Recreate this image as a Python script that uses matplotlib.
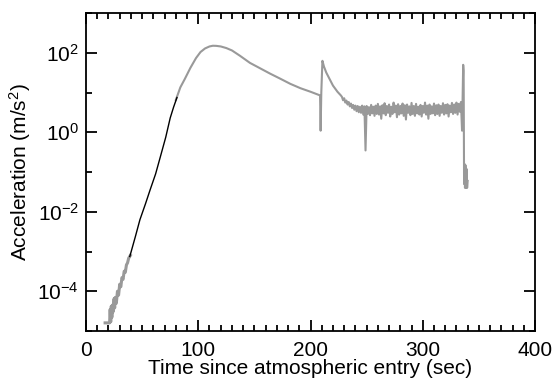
import matplotlib
matplotlib.use("Agg")
import matplotlib.pyplot as plt
from matplotlib.ticker import LogLocator, MultipleLocator, LogFormatterMathtext, NullFormatter

plt.rcParams['font.family'] = 'Liberation Sans'
plt.rcParams['mathtext.fontset'] = 'custom'
plt.rcParams['mathtext.rm'] = 'Liberation Sans'
plt.rcParams['mathtext.it'] = 'Liberation Sans'

# early part of the measured record (noisy, blocky)
t_early = [17, 21, 21.5, 22, 22.5, 23, 23.5, 24, 25, 25.5, 26, 27, 28, 29, 30, 31,
           32, 33, 34, 35, 36, 37, 38, 39.5]
a_early = [1.6e-5, 1.6e-5, 3.5e-5, 1.7e-5, 4.2e-5, 2.2e-5, 4.5e-5, 3.0e-5, 6.5e-5, 3.8e-5,
           7.0e-5, 5.0e-5, 1.0e-4, 8.0e-5, 1.5e-4, 1.3e-4, 2.2e-4, 2.0e-4, 3.2e-4, 3.0e-4,
           4.6e-4, 5.2e-4, 6.8e-4, 8.0e-4]

# fitted section (black)
t_fit = [39, 44, 48, 53, 57, 62, 66, 71, 75, 78, 81]
a_fit = [7.5e-4, 2.4e-3, 6.3e-3, 1.6e-2, 3.5e-2, 0.09, 0.23, 0.75, 2.3, 4.3, 7.5]

# smooth deceleration to parachute deployment
t_main = [80, 84, 88, 93, 98, 102, 106, 110, 113, 116, 120, 125, 130, 137, 146, 155,
          164, 173, 182, 191, 200, 208.5]
a_main = [6.5, 13.5, 22, 42, 74, 105, 129, 145, 151, 150, 145, 132, 115, 85, 56, 41,
          30, 22.4, 16.6, 12.9, 10.5, 8.5]

# parachute phase
t_chute = [208.5, 209, 209.6, 210.6, 212, 214, 217, 220, 224, 227]
a_chute = [8.5, 1.1, 10, 63, 45, 32, 22, 15, 10.5, 8.5]

t_noise = list(range(228, 335))
a_noise = [7.8, 6.4, 7.2, 5.6, 6.3, 5.0, 5.8, 4.5, 5.3, 4.1,
           4.9, 3.7, 4.7, 3.4, 4.6, 3.2, 4.4, 3.1, 4.7, 2.8,
           4.5, 0.35, 4.6, 2.9, 4.3, 2.7, 4.9, 3.0, 4.4, 2.6,
           4.7, 2.9, 5.2, 2.8, 4.5, 2.2, 4.8, 3.0, 5.4, 2.7,
           4.6, 3.1, 5.0, 2.5, 4.4, 2.9, 5.6, 3.2, 4.7, 2.4,
           5.1, 2.8, 4.6, 3.0, 5.3, 2.6, 4.8, 2.1, 5.0, 3.1,
           4.5, 2.7, 5.5, 2.9, 4.6, 2.6, 5.2, 3.0, 4.4, 2.8,
           4.9, 2.5, 4.6, 3.1, 5.6, 2.8, 4.7, 2.2, 5.0, 2.9,
           4.5, 3.0, 5.3, 2.7, 4.8, 2.9, 5.0, 2.6, 4.6, 3.1,
           5.4, 2.8, 4.9, 3.0, 5.1, 2.5, 4.7, 3.2, 5.5, 2.9,
           5.0, 3.1, 5.6, 2.8, 5.2, 3.3, 5.8]

# impact
t_end = [335, 335.4, 336, 336.4, 336.8, 337.2, 337.6, 338, 338.5, 339, 339.5, 340]
a_end = [1.1, 5.0, 50, 35, 0.05, 0.16, 0.04, 0.15, 0.04, 0.12, 0.04, 0.06]

fig = plt.figure(figsize=(5.55, 3.86), dpi=100)
ax = fig.add_axes([0.155, 0.1425, 0.809, 0.8235])

gray = '#999999'
ax.plot(t_early, a_early, color=gray, lw=2.2)
ax.plot(t_main + t_chute + t_noise + t_end, a_main + a_chute + a_noise + a_end,
        color=gray, lw=1.5)
ax.plot(t_fit, a_fit, color='black', lw=1.0)

ax.set_yscale('log')
ax.set_xlim(0, 400)
ax.set_ylim(1e-5, 1e3)

ax.xaxis.set_major_locator(MultipleLocator(100))
ax.xaxis.set_minor_locator(MultipleLocator(10))
ax.yaxis.set_major_locator(LogLocator(base=100))
ax.yaxis.set_minor_locator(LogLocator(base=10, subs=[1.0], numticks=20))
ax.yaxis.set_major_formatter(LogFormatterMathtext(base=10))
ax.yaxis.set_minor_formatter(NullFormatter())

ax.tick_params(which='both', direction='in', top=True, right=True, width=1.3,
               labelsize=15)
ax.tick_params(which='major', length=8)
ax.tick_params(axis='x', which='major', pad=7)
ax.tick_params(axis='y', which='major', pad=5)
ax.tick_params(which='minor', length=4)
for s in ax.spines.values():
    s.set_linewidth(1.3)
for lab in ax.get_yticklabels():
    lab.set_va('center_baseline')

ax.set_xlabel('Time since atmospheric entry (sec)', fontsize=15)
ax.set_ylabel('Acceleration (m/s$^2$)', fontsize=15)
ax.xaxis.set_label_coords(0.5, -0.088)
ax.yaxis.set_label_coords(-0.118, 0.5)

fig.savefig('out.png', dpi=100)
